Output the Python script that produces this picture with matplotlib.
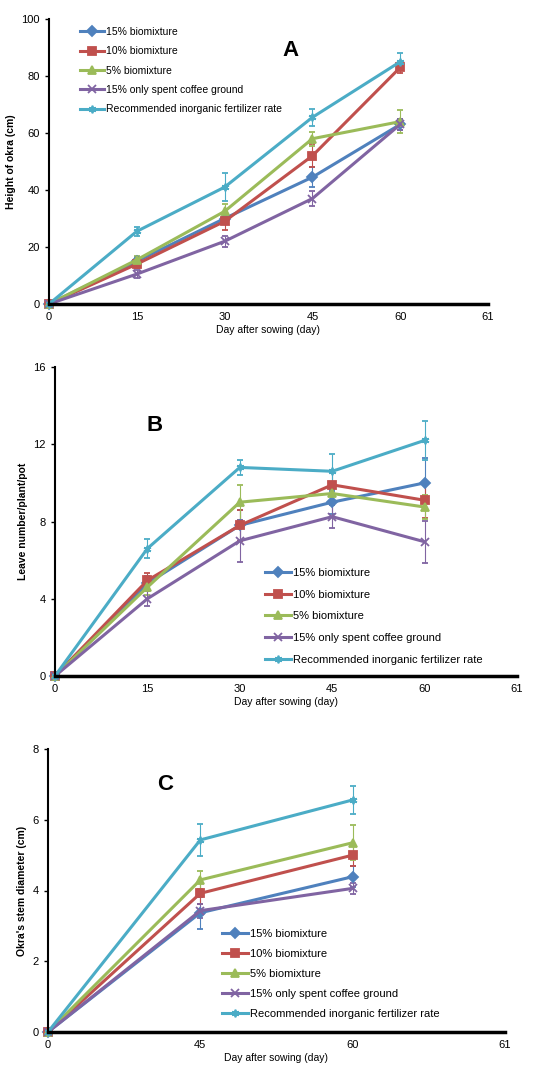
import numpy as np
import matplotlib.pyplot as plt
from matplotlib.lines import Line2D

plt.rcParams['font.family'] = ['Liberation Sans', 'DejaVu Sans']

series_names = ['15% biomixture', '10% biomixture', '5% biomixture',
                '15% only spent coffee ground', 'Recommended inorganic fertilizer rate']
colors = ['#4F81BD', '#C0504D', '#9BBB59', '#8064A2', '#4BACC6']
markers = ['D', 's', '^', 'x', (6, 2, 0)]

# panel A - height of okra (cm)
cats_a = ['0', '15', '30', '45', '60', '61']
height_vals = [
    [0, 15, 30, 44.5, 63],
    [0, 14, 29, 52, 83],
    [0, 15.5, 32.5, 58, 64],
    [0, 10.5, 22, 37, 63],
    [0, 25.5, 41, 65.5, 85],
]
height_err = [
    [0, 1.5, 2, 3.5, 2],
    [0, 1.5, 3, 4, 2],
    [0, 1.5, 2.5, 2.5, 4],
    [0, 1.5, 2, 2.5, 2],
    [0, 1.5, 5, 3, 3],
]

# panel B - leaf number
cats_b = ['0', '15', '30', '45', '60', '61']
leaf_vals = [
    [0, 4.8, 7.8, 9.0, 10.0],
    [0, 4.95, 7.8, 9.9, 9.1],
    [0, 4.6, 9.0, 9.45, 8.75],
    [0, 4.0, 7.0, 8.25, 6.95],
    [0, 6.6, 10.8, 10.6, 12.2],
]
leaf_err = [
    [0, 0.4, 0.8, 0.6, 1.3],
    [0, 0.4, 0.8, 0.6, 0.9],
    [0, 0.4, 0.9, 0.5, 0.6],
    [0, 0.4, 1.1, 0.6, 1.1],
    [0, 0.5, 0.4, 0.9, 1.0],
]

# panel C - stem diameter (cm)
cats_c = ['0', '45', '60', '61']
stem_vals = [
    [0, 3.37, 4.39],
    [0, 3.92, 5.0],
    [0, 4.3, 5.35],
    [0, 3.43, 4.06],
    [0, 5.43, 6.56],
]
stem_err = [
    [0, 0.45, 0.3],
    [0, 0.3, 0.3],
    [0, 0.25, 0.5],
    [0, 0.2, 0.15],
    [0, 0.45, 0.4],
]

fig = plt.figure(figsize=(5.51, 10.79), dpi=100)
W, H = 551, 1079


def make_axes(l, r, t, b):
    return fig.add_axes([l / W, 1 - b / H, (r - l) / W, (b - t) / H])


def draw(ax, cats, vals, errs, ymax, ystep, ylabel, letter, letter_pos,
         leg_xy, leg_size, leg_space):
    x = np.arange(len(vals[0]))
    handles = []
    for v, e, c, m, n in zip(vals, errs, colors, markers, series_names):
        ax.errorbar(x, v, yerr=e, color=c, marker=m, markersize=5.5, lw=2.2,
                    mew=1.3, ecolor=c, elinewidth=0.8, capsize=2.5, clip_on=False)
        handles.append(Line2D([], [], color=c, marker=m, markersize=5.5, lw=2.2,
                              mew=1.3, label=n))
    ax.set_xlim(0, len(cats) - 1)
    ax.set_ylim(0, ymax)
    ax.set_xticks(np.arange(len(cats)))
    ax.set_xticklabels(cats)
    ax.set_yticks(np.arange(0, ymax + 0.1, ystep))
    ax.spines['top'].set_visible(False)
    ax.spines['right'].set_visible(False)
    ax.spines['bottom'].set_linewidth(2.5)
    ax.spines['left'].set_linewidth(1.5)
    ax.tick_params(axis='x', length=0, labelsize=8, pad=6)
    ax.tick_params(axis='y', length=3, width=1, labelsize=8)
    ax.set_xlabel('Day after sowing (day)', fontsize=7.5, labelpad=2)
    ax.set_ylabel(ylabel, fontsize=7.5, fontweight='bold')
    ax.text(letter_pos[0], letter_pos[1], letter, transform=ax.transAxes,
            fontsize=16, fontweight='bold', ha='center', va='center')
    ax.legend(handles=handles, loc='upper left',
              bbox_to_anchor=(leg_xy[0] / W, 1 - leg_xy[1] / H),
              bbox_transform=fig.transFigure, frameon=False,
              fontsize=leg_size, handlelength=2.3, handletextpad=0.2,
              labelspacing=leg_space, borderaxespad=0, borderpad=0)


ax_a = make_axes(49, 488, 19, 304)
draw(ax_a, cats_a, height_vals, height_err, 100, 20, 'Height of okra (cm)', 'A',
     (0.55, 0.89), (80, 27), 7.5, 0.9)

ax_b = make_axes(55, 517, 367, 676)
draw(ax_b, cats_b, leaf_vals, leaf_err, 16, 4, 'Leave number/plant/pot', 'B',
     (0.216, 0.81), (265, 568), 8, 1.05)

ax_c = make_axes(48, 505, 749, 1032)
draw(ax_c, cats_c, stem_vals, stem_err, 8, 2, "Okra's stem diameter (cm)", 'C',
     (0.256, 0.873), (222, 929), 8, 0.9)

fig.savefig('out.png', dpi=100)
